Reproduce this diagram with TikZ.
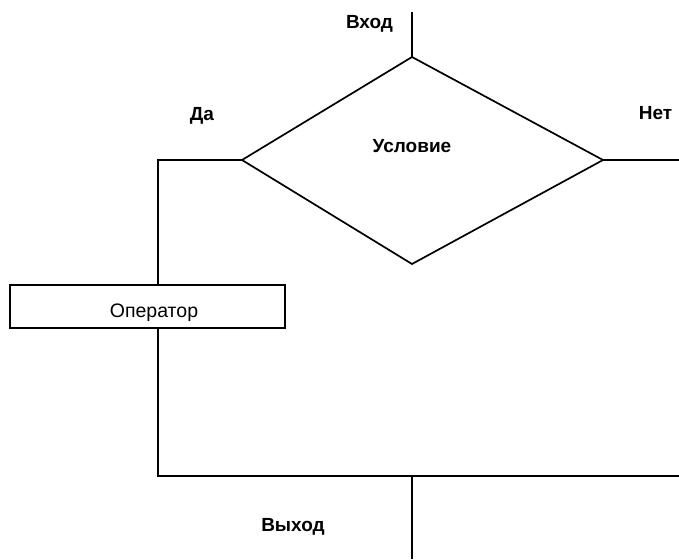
\documentclass[tikz,border=0pt]{standalone}
\usepackage{fontspec}
\setmainfont{Liberation Sans}
\begin{document}
\begin{tikzpicture}[x=1pt,y=-1pt,
  line/.style={line width=1.7pt},
  lbl/.style={font=\fontsize{19}{22}\selectfont\bfseries, inner sep=0pt, anchor=base},
  optext/.style={font=\fontsize{19.5}{22}\selectfont, inner sep=0pt, anchor=base},
  opbox/.style={draw, line width=1.7pt, rectangle, minimum width=275pt, minimum height=43pt, inner sep=0pt}]
\useasboundingbox (0,0) rectangle (679,559);
% diamond vertices
\coordinate (dt) at (412,57);
\coordinate (dl) at (242,160);
\coordinate (dr) at (603,160);
\coordinate (db) at (412,264);
\draw[line, line join=miter] (dt) -- (dr) -- (db) -- (dl) -- cycle;
\node[opbox] (op) at (147.5,306.5) {};
\coordinate (in) at (412,12);
\coordinate (ly) at (158,160);
\coordinate (rr) at (679,160);
\coordinate (jl) at (158,476);
\coordinate (jr) at (679,476);
\coordinate (jm) at (412,476);
\coordinate (out) at (412,559);
\draw[line] (in) -- (dt);
\draw[line] (dl) -- (ly) -- (op.north -| ly);
\draw[line] (dr) -- (rr);
\draw[line] (op.south -| jl) -- (jl) -- (jr);
\draw[line] (jm) -- (out);
\node[lbl] (tin) at (369.5,29) {Вход};
\node[lbl] (tyes) at (202,121) {Да};
\node[lbl] (tno) at (655.5,120) {Нет};
\node[lbl] (tc) at (412,152) {Условие};
\node[optext] (top) at (154,317) {Оператор};
\node[lbl] (tout) at (293,531) {Выход};
\end{tikzpicture}
\end{document}
